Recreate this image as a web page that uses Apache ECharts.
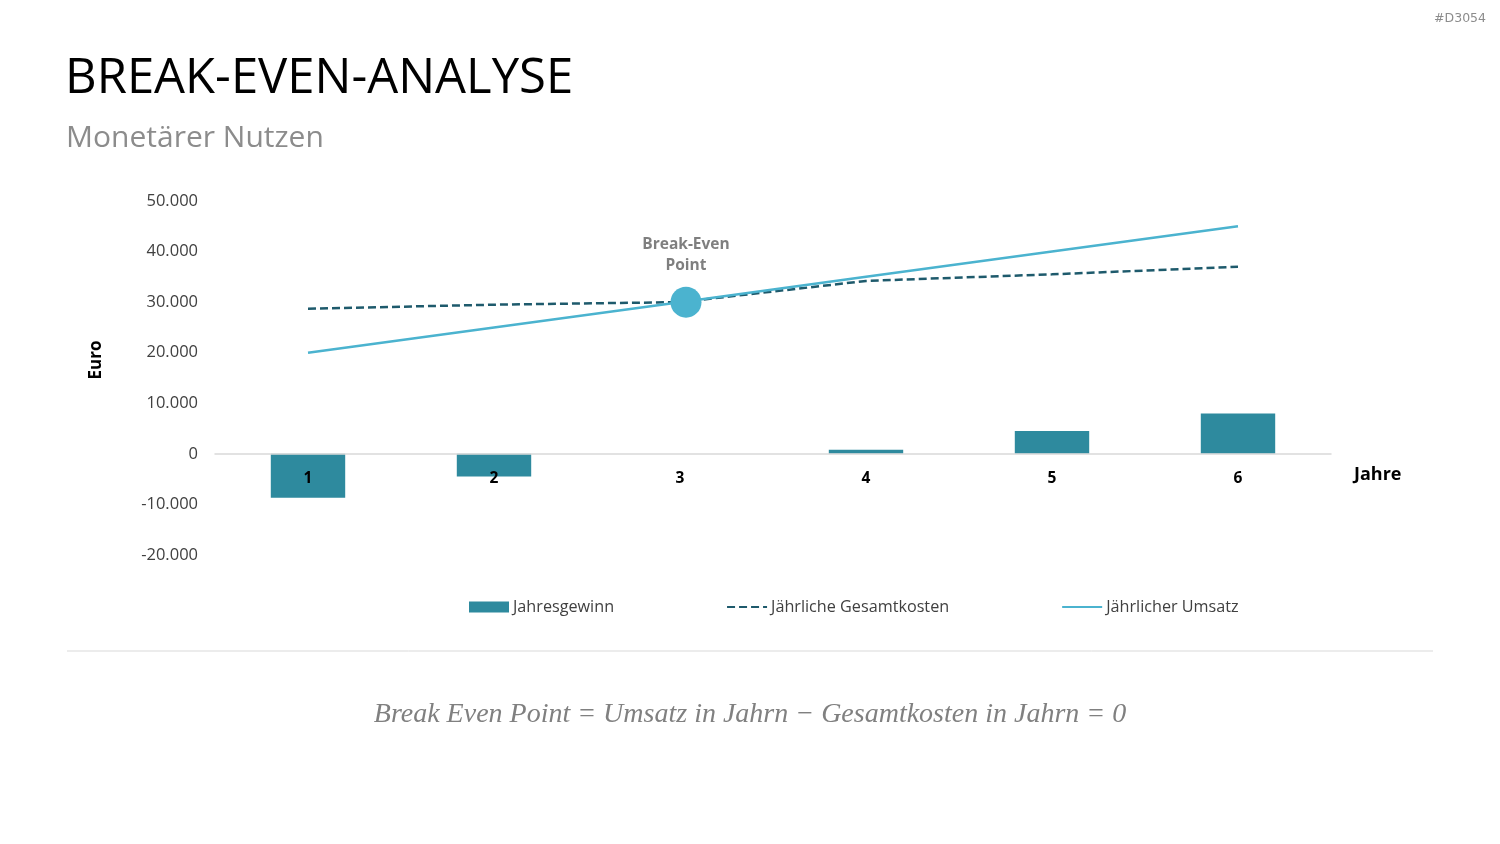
<!DOCTYPE html>
<html>
<head>
<meta charset="utf-8">
<script src="https://cdn.jsdelivr.net/npm/echarts@6/dist/echarts.min.js"></script>
<style>
  html, body { margin: 0; padding: 0; background: #fff; }
  #chart { width: 1500px; height: 844px; }
</style>
</head>
<body>
<div id="chart"></div>
<script>
// Daten
const jahre = ["1", "2", "3", "4", "5", "6"];
const jahresgewinn = [-8700, -4500, 0, 800, 4500, 8000];
const gesamtkosten = [28700, 29500, 30000, 34200, 35500, 37000];
const umsatz = [20000, 25000, 30000, 35000, 40000, 45000];
const breakEven = [["3", 30000]];

const chart = echarts.init(document.getElementById("chart"));

const fmt = (v) => {
  if (v === 0) return "0";
  const s = Math.abs(v).toString().replace(/\B(?=(\d{3})+(?!\d))/g, ".");
  return (v < 0 ? "-" : "") + s;
};

const option = {
  backgroundColor: "#fff",
  textStyle: { fontFamily: "Open Sans, Noto Sans, sans-serif" },
  graphic: [
    {
      type: "text", left: 65, top: 55,
      style: { text: "BREAK-EVEN-ANALYSE", fontSize: 49, fill: "#000", fontFamily: "Open Sans" },
    },
    {
      type: "text", left: 66, top: 123,
      style: { text: "Monetärer Nutzen", fontSize: 30, fill: "#8c8c8c", fontFamily: "Open Sans" },
    },
    {
      type: "text", right: 14, top: 12,
      style: { text: "#D3054", fontSize: 12.5, fill: "#8c8c8c", fontFamily: "DejaVu Sans" },
    },
    {
      type: "text", x: 96, y: 360, rotation: Math.PI / 2,
      style: {
        text: "Euro", fontSize: 17, fontWeight: "bold", fill: "#000",
        align: "center", verticalAlign: "middle", fontFamily: "Open Sans",
      },
    },
    {
      type: "line",
      shape: { x1: 67, y1: 651, x2: 1433, y2: 651 },
      style: { stroke: "#d9d9d9", lineWidth: 1 },
    },
    {
      type: "text", x: 750, y: 715,
      style: {
        text: "Break Even Point = Umsatz in Jahrn − Gesamtkosten in Jahrn = 0",
        fontSize: 28, fontStyle: "italic", fill: "#808080",
        fontFamily: "Liberation Serif", align: "center", verticalAlign: "middle",
      },
    },
  ],
  legend: {
    left: 464, top: 594,
    itemGap: 112, itemWidth: 40, itemHeight: 11,
    itemStyle: { borderWidth: 0 },
    textStyle: { fontSize: 16.2, color: "#404040", padding: [0, 0, 0, -1] },
    data: [
      { name: "Jahresgewinn", icon: "rect" },
      { name: "Jährliche Gesamtkosten", itemStyle: { opacity: 0 } },
      { name: "Jährlicher Umsatz", itemStyle: { opacity: 0 } },
    ],
  },
  grid: { left: 215, right: 169, top: 201, bottom: 289 },
  xAxis: {
    type: "category",
    data: jahre,
    z: 10,
    offset: -101,
    axisLine: { onZero: false, lineStyle: { color: "#d9d9d9", width: 1.5 } },
    axisTick: { show: false },
    axisLabel: { fontSize: 15.5, fontWeight: "bold", color: "#000", margin: 17 },
    name: "Jahre",
    nameLocation: "end",
    nameGap: 23,
    nameTextStyle: {
      fontSize: 18, fontWeight: "bold", color: "#000",
      verticalAlign: "top", padding: [12, 0, 0, 0],
    },
  },
  yAxis: {
    type: "value",
    min: -20000, max: 50000, interval: 10000,
    splitLine: { show: false },
    axisLine: { show: false },
    axisTick: { show: false },
    axisLabel: { fontSize: 16.5, color: "#404040", margin: 17, formatter: fmt },
  },
  series: [
    {
      name: "Jahresgewinn",
      type: "bar",
      data: jahresgewinn,
      barWidth: "40%",
      itemStyle: { color: "#2e8a9e" },
    },
    {
      name: "Jährliche Gesamtkosten",
      type: "line",
      data: gesamtkosten,
      symbol: "none",
      lineStyle: { color: "#1e5a6c", width: 2.5, type: [8, 4] },
      itemStyle: { color: "#1e5a6c" },
      z: 3,
    },
    {
      name: "Jährlicher Umsatz",
      type: "line",
      data: umsatz,
      symbol: "none",
      lineStyle: { color: "#4bb3cf", width: 2.5 },
      itemStyle: { color: "#4bb3cf" },
      z: 4,
    },
    {
      name: "Break-Even",
      type: "scatter",
      data: breakEven,
      symbolSize: 31,
      symbolOffset: [6, 0],
      itemStyle: { color: "#4bb3cf", opacity: 1 },
      z: 5,
      label: {
        show: true,
        position: "top",
        distance: 11,
        formatter: "Break-Even\nPoint",
        fontSize: 15.5,
        fontWeight: "bold",
        color: "#7f7f7f",
        lineHeight: 21,
      },
    },
  ],
};

chart.setOption(option);
window.addEventListener("resize", () => chart.resize());
</script>
</body>
</html>
